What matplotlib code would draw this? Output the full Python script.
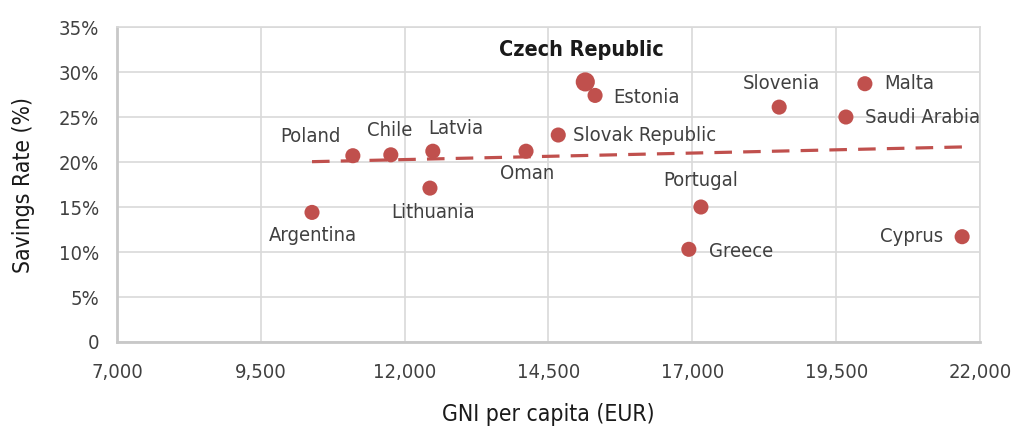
import numpy as np
import matplotlib
matplotlib.use('Agg')
import matplotlib.pyplot as plt
from matplotlib.ticker import FuncFormatter

# data
countries = ['Argentina', 'Poland', 'Chile', 'Latvia', 'Lithuania', 'Oman',
             'Slovak Republic', 'Czech Republic', 'Estonia', 'Portugal', 'Greece',
             'Slovenia', 'Malta', 'Saudi Arabia', 'Cyprus']
gni = [10390, 11100, 11760, 12490, 12440, 14110, 14670, 15140, 15310, 17150,
       16940, 18510, 20000, 19670, 21690]
savings = [14.4, 20.7, 20.8, 21.2, 17.1, 21.2, 23.0, 28.9, 27.4, 15.0, 10.3,
           26.1, 28.7, 25.0, 11.7]
xticks = [7000, 9500, 12000, 14500, 17000, 19500, 22000]
yticks = [0, 5, 10, 15, 20, 25, 30, 35]

# label placement (offset in pixels, horizontal alignment)
label_pos = {
    'Argentina': (1, -23, 'center'),
    'Poland': (-12, 19, 'right'),
    'Chile': (-1, 24, 'center'),
    'Latvia': (23, 23, 'center'),
    'Lithuania': (3, -24, 'center'),
    'Oman': (1, -22, 'center'),
    'Slovak Republic': (15, 0, 'left'),
    'Czech Republic': (-4, 32, 'center'),
    'Estonia': (18, -2, 'left'),
    'Portugal': (0, 27, 'center'),
    'Greece': (20, -2, 'left'),
    'Slovenia': (2, 24, 'center'),
    'Malta': (19, 0, 'left'),
    'Saudi Arabia': (19, 0, 'left'),
    'Cyprus': (-19, 0, 'right'),
}

red = '#c0504d'
txt = '#404040'
plt.rcParams['font.family'] = ['DejaVu Sans']
plt.rcParams['font.stretch'] = 'condensed'

fig = plt.figure(figsize=(10.11, 4.29), dpi=100)
ax = fig.add_axes([0.1157, 0.2028, 0.8536, 0.7342])

sizes = [190 if c == 'Czech Republic' else 118 for c in countries]
ax.scatter(gni, savings, s=sizes, color=red, zorder=3, linewidths=0)

# linear trend line over the data range
k, b = np.polyfit(gni, savings, 1)
xs = np.array([min(gni), max(gni)])
ax.plot(xs, k * xs + b, color=red, lw=2.3, dashes=(5.5, 3.5), zorder=2)

for c, x, y in zip(countries, gni, savings):
    dx, dy, ha = label_pos[c]
    if c == 'Czech Republic':
        ax.annotate(c, (x, y), xytext=(dx, dy), textcoords='offset pixels',
                    ha=ha, va='center', fontsize=15.5, fontweight='bold', color='#1a1a1a')
    else:
        ax.annotate(c, (x, y), xytext=(dx, dy), textcoords='offset pixels',
                    ha=ha, va='center', fontsize=14.5, color=txt)

ax.set_xlim(7000, 22000)
ax.set_ylim(0, 35)
ax.set_xticks(xticks)
ax.set_yticks(yticks)
ax.xaxis.set_major_formatter(FuncFormatter(lambda v, p: f'{int(v):,}'))
ax.yaxis.set_major_formatter(FuncFormatter(lambda v, p: '0' if v == 0 else f'{int(v)}%'))
ax.tick_params(length=0, labelsize=14.5, labelcolor=txt)
ax.tick_params(axis='x', pad=15)
ax.tick_params(axis='y', pad=13)

ax.grid(True, color='#d9d9d9', lw=1.2)
ax.set_axisbelow(True)
for s in ['top', 'right']:
    ax.spines[s].set_color('#d9d9d9')
    ax.spines[s].set_linewidth(1.2)
for s in ['left', 'bottom']:
    ax.spines[s].set_color('#c8c8c8')
    ax.spines[s].set_linewidth(2)

ax.set_xlabel('GNI per capita (EUR)', fontsize=16.5, color='#1a1a1a', labelpad=15)
ax.set_ylabel('Savings Rate (%)', fontsize=16.5, color='#1a1a1a', labelpad=17)

fig.savefig('out.png', dpi=100)
